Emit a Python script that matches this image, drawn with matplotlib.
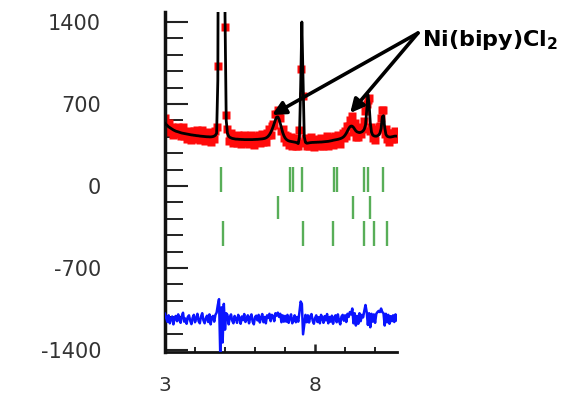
import numpy as np
import matplotlib
matplotlib.use("Agg")
from matplotlib import pyplot as plt
from matplotlib.ticker import MultipleLocator, FixedLocator

plt.rcParams['axes.unicode_minus'] = False

# 2-theta grid of the scan (step 0.04 deg)
two_theta = np.round(np.arange(3.0, 10.73, 0.04), 2)

# calculated profile (black line)
y_calc = [535, 525, 515, 505, 498, 490, 484, 478, 473, 468,
          465, 462, 458, 455, 452, 450, 448, 446, 444, 442,
          440, 438, 436, 435, 433, 432, 430, 429, 428, 426,
          425, 424, 423, 422, 421, 420, 420, 419, 419, 420,
          422, 426, 433, 450, 900, 4200, 9500, 11500, 9800, 5200,
          1450, 560, 450, 425, 415, 410, 406, 404, 402, 400,
          400, 399, 398, 398, 397, 397, 396, 396, 396, 396,
          396, 396, 396, 396, 397, 397, 398, 398, 399, 400,
          401, 402, 404, 406, 410, 416, 425, 438, 455, 478,
          505, 535, 565, 588, 590, 570, 535, 495, 458, 430,
          410, 398, 390, 385, 382, 380, 378, 376, 374, 372,
          368, 362, 420, 850, 1400, 900, 420, 372, 365, 366,
          368, 370, 371, 372, 372, 373, 373, 374, 374, 375,
          375, 376, 377, 378, 379, 380, 381, 383, 385, 387,
          390, 392, 394, 396, 398, 401, 404, 408, 414, 422,
          434, 450, 470, 490, 505, 512, 510, 500, 485, 470,
          462, 458, 456, 458, 462, 470, 485, 520, 640, 780,
          700, 540, 460, 435, 428, 425, 425, 428, 435, 450,
          490, 590, 600, 500, 440, 425, 420, 418, 418, 420,
          422, 425, 426, 425]

# observed intensities (red points)
y_obs = [580, 534, 492, 537, 462, 497, 506, 433, 487, 495,
         447, 502, 449, 423, 477, 504, 426, 451, 404, 460,
         472, 424, 393, 446, 469, 405, 434, 474, 410, 390,
         447, 474, 412, 386, 428, 449, 395, 459, 374, 434,
         449, 404, 469, 505, 1020, 4370, 9210, 11600, 9600, 5330,
         1360, 610, 486, 380, 433, 450, 392, 368, 429, 405,
         368, 435, 409, 358, 419, 388, 439, 371, 392, 428,
         360, 410, 436, 374, 352, 415, 427, 387, 435, 371,
         412, 445, 377, 424, 374, 448, 434, 483, 437, 514,
         532, 517, 615, 618, 645, 588, 580, 468, 490, 408,
         437, 376, 426, 353, 393, 420, 342, 369, 406, 345,
         386, 340, 480, 1000, 1530, 770, 370, 408, 338, 398,
         339, 392, 414, 358, 332, 382, 405, 349, 390, 339,
         411, 383, 345, 403, 368, 423, 345, 401, 363, 416,
         350, 406, 426, 369, 438, 383, 359, 430, 450, 408,
         466, 425, 515, 508, 565, 552, 600, 464, 535, 415,
         489, 418, 506, 440, 498, 484, 555, 640, 700, 730,
         750, 470, 505, 413, 468, 393, 470, 488, 505, 510,
         580, 650, 650, 445, 485, 398, 456, 378, 443, 402,
         454, 400, 466, 414]

diff_offset = -1136

# Bragg reflection positions (three phases)
refl_1 = [4.87, 7.17, 7.27, 7.57, 8.63, 8.73, 9.63, 9.77, 10.27]
refl_2 = [6.77, 9.27, 9.83]   # Ni(bipy)Cl2
refl_3 = [4.93, 7.6, 8.6, 9.63, 9.97, 10.4]

x_ticks = [3, 8]

y_obs = np.array(y_obs, dtype=float)
y_calc = np.array(y_calc, dtype=float)
y_diff = y_obs - y_calc + diff_offset

fig = plt.figure(figsize=(5.67, 3.96), dpi=100)
ax = fig.add_axes([165 / 567, 1 - 352 / 396, 232 / 567, 340 / 396])

ax.plot(two_theta, y_obs, 's', color='#ff0a0a', ms=6, mec='none', zorder=2)
ax.plot(two_theta, y_calc, '-', color='black', lw=2.0, zorder=3)
ax.plot(two_theta, y_diff, '-', color='#0a14ff', lw=1.8, zorder=3)

ax.vlines(refl_1, -50, 160, color='#2e9a2e', lw=1.7, alpha=0.8)
ax.vlines(refl_2, -280, -85, color='#2e9a2e', lw=1.7, alpha=0.8)
ax.vlines(refl_3, -510, -300, color='#2e9a2e', lw=1.7, alpha=0.8)

ax.set_xlim(3, 10.73)
ax.set_ylim(-1417, 1485)

ax.xaxis.set_major_locator(FixedLocator(x_ticks))
ax.xaxis.set_minor_locator(MultipleLocator(1))
ax.yaxis.set_major_locator(MultipleLocator(700))
ax.yaxis.set_minor_locator(MultipleLocator(140))

for s in ['top', 'right']:
    ax.spines[s].set_visible(False)
ax.spines['left'].set_linewidth(2.5)
ax.spines['bottom'].set_linewidth(2.0)
ax.spines['left'].set_color('#111111')
ax.spines['bottom'].set_color('#111111')

ax.tick_params(axis='y', which='major', direction='in', length=16.5, width=1.5,
               color='#222222', pad=46, labelsize=15, labelcolor='#333333')
ax.tick_params(axis='y', which='minor', direction='in', length=13, width=1.4,
               color='#222222')
ax.tick_params(axis='x', which='major', direction='in', length=6, width=1.8,
               color='#222222', pad=17, labelsize=14.5, labelcolor='#333333')
ax.tick_params(axis='x', which='minor', direction='in', length=3.6, width=1.4,
               color='#222222')

# label + arrows to the Ni(bipy)Cl2 peaks
fig.text(422 / 567, 1 - 46 / 396, r'Ni(bipy)Cl$_\mathbf{2}$', fontsize=16,
         fontweight='bold', family='DejaVu Sans', va='baseline', ha='left')
arrow = dict(arrowstyle='-|>', color='black', lw=2.6, mutation_scale=20,
             shrinkA=0, shrinkB=0)
ax.annotate('', xy=(6.57, 606), xytext=(418, 363), textcoords='figure pixels',
            arrowprops=arrow, annotation_clip=False)
ax.annotate('', xy=(9.17, 623), xytext=(418, 363), textcoords='figure pixels',
            arrowprops=arrow, annotation_clip=False)

fig.savefig('out.png', dpi=100)
